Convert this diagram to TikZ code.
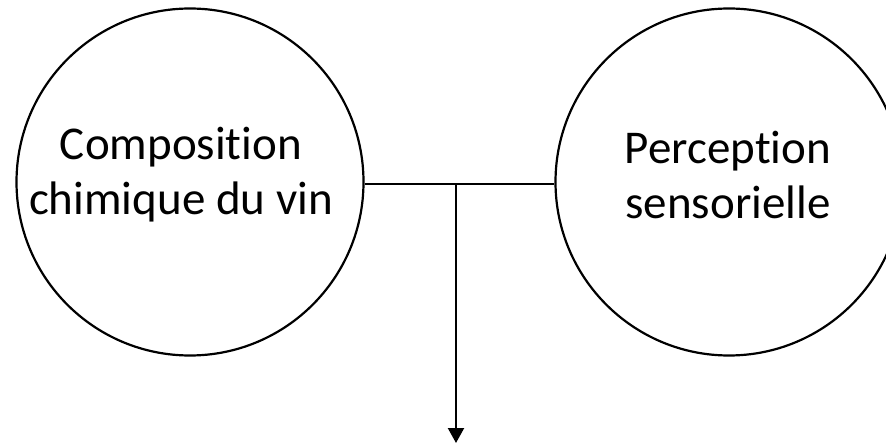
\documentclass[tikz,border=0pt]{standalone}
\usepackage{fontspec}
\setmainfont{Carlito}[Ligatures=NoCommon]
\usetikzlibrary{arrows.meta}
\begin{document}
\begin{tikzpicture}[x=1pt,y=-1pt,
  topic/.style={circle,draw=black,line width=2.2pt,minimum size=347pt,inner sep=0pt},
  caption/.style={align=center,font=\fontsize{47}{55}\selectfont,inner sep=0pt},
  link/.style={draw=black,line width=2.2pt}]
  \useasboundingbox (0,0) rectangle (886,446);
  \clip (0,0) rectangle (886,446);
  \node[topic] (chem) at (190,182) {};
  \node[topic] (sens) at (729,182) {};
  \node[caption] (chemtxt) at (181,175) {Composition\\chimique du vin};
  \node[caption] (senstxt) at (728,175) {Perception\\sensorielle};
  \coordinate (joint) at (456,184);
  \coordinate (out) at (456,443);
  \draw[link] (chem.east |- joint) -- (sens.west |- joint);
  \draw[link,-{Triangle[length=15pt,width=16pt]}] (joint) -- (out);
\end{tikzpicture}
\end{document}
